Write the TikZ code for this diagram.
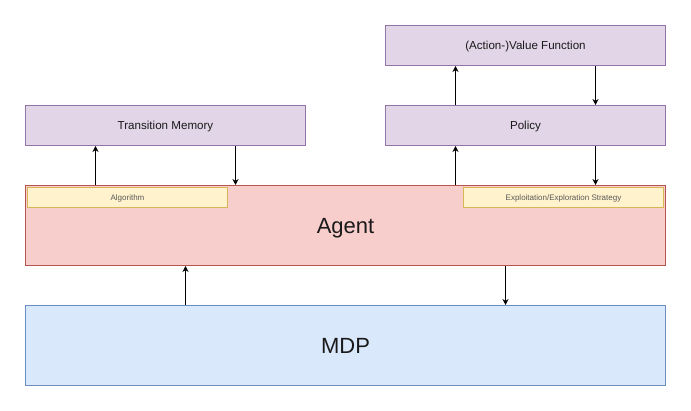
\documentclass[tikz,border=0pt]{standalone}
\usepackage{fontspec}
\setmainfont{Liberation Sans}
\usepackage{xcolor}
\usepackage{tikz}
\usetikzlibrary{calc,arrows.meta}
\definecolor{purplefill}{HTML}{E1D5E7}
\definecolor{purpleline}{HTML}{9673A6}
\definecolor{redfill}{HTML}{F8CECC}
\definecolor{redline}{HTML}{B85450}
\definecolor{yellowfill}{HTML}{FFF2CC}
\definecolor{yellowline}{HTML}{D6B656}
\definecolor{bluefill}{HTML}{DAE8FC}
\definecolor{blueline}{HTML}{6C8EBF}
\definecolor{ink}{HTML}{1A1A1A}
\tikzset{
  box/.style={anchor=north west, inner sep=0pt, line width=1pt, text=ink, text depth=0pt},
  pbox/.style={box, draw=purpleline, fill=purplefill, minimum width=280pt, minimum height=40pt, text height=8.3pt, font=\fontsize{11.6}{13}\selectfont},
  bigbox/.style={box, minimum width=640pt, minimum height=80pt, text height=15.8pt, font=\fontsize{22}{26}\selectfont},
  tag/.style={box, draw=yellowline, fill=yellowfill, minimum width=200pt, minimum height=20pt, text height=5.8pt, text=black!65, font=\fontsize{8}{9}\selectfont},
  arr/.style={draw=black, line width=1pt, -{Stealth[length=6pt,width=6pt]}}
}
\begin{document}
\begin{tikzpicture}[x=1pt, y=-1pt]
  \useasboundingbox (0,0) rectangle (691,411);
  \fill[white] (0,0) rectangle (691,411);

  % boxes
  \node[pbox] (value) at (385,25) {(Action-)Value Function};
  \node[pbox] (policy) at (385,105) {Policy};
  \node[pbox] (memory) at (25,105) {Transition Memory};
  \node[bigbox, draw=redline, fill=redfill] (agent) at (25,185) {Agent};
  \node[bigbox, draw=blueline, fill=bluefill] (mdp) at (25,305) {MDP};
  \node[tag] (algo) at (27,187) {Algorithm};
  \node[tag] (strategy) at (463,187) {Exploitation/Exploration Strategy};

  % arrows
  \draw[arr] ([xshift=-70pt]memory.south |- agent.north) -- ([xshift=-70pt]memory.south);
  \draw[arr] ([xshift=70pt]memory.south) -- ([xshift=70pt]memory.south |- agent.north);
  \draw[arr] ([xshift=-70pt]policy.south |- agent.north) -- ([xshift=-70pt]policy.south);
  \draw[arr] ([xshift=70pt]policy.south) -- ([xshift=70pt]policy.south |- agent.north);
  \draw[arr] ([xshift=-70pt]policy.north) -- ([xshift=-70pt]value.south);
  \draw[arr] ([xshift=70pt]value.south) -- ([xshift=70pt]policy.north);
  \draw[arr] ([xshift=-160pt]mdp.north) -- ([xshift=-160pt]agent.south);
  \draw[arr] ([xshift=160pt]agent.south) -- ([xshift=160pt]mdp.north);
\end{tikzpicture}
\end{document}
